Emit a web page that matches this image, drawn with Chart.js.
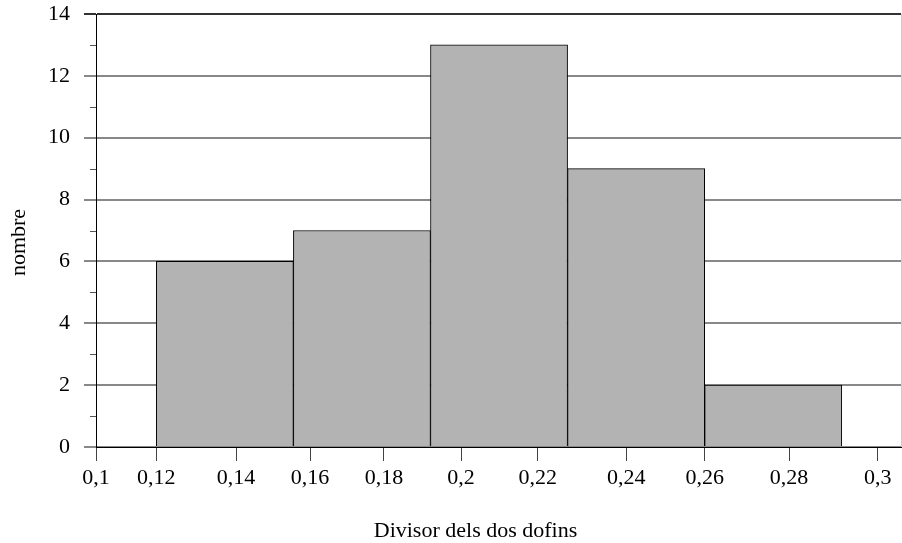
<!DOCTYPE html>
<html>
<head>
<meta charset="utf-8">
<script src="https://cdn.jsdelivr.net/npm/chart.js@4.4.1/dist/chart.umd.min.js"></script>
<style>
  html, body { margin: 0; padding: 0; background: #ffffff; }
  #wrap { position: relative; width: 902px; height: 543px; }
</style>
</head>
<body>
<div id="wrap"><canvas id="c"></canvas></div>
<script>
// ---- data ----
const binEdges = [0.12, 0.155, 0.19, 0.225, 0.26, 0.295];
const counts = [6, 7, 13, 9, 2];
// tick labels of the x axis and where the reference places them (axis units)
const xTickLabels = ['0,1', '0,12', '0,14', '0,16', '0,18', '0,2', '0,22', '0,24', '0,26', '0,28', '0,3'];
const xTickValues = [0.10461, 0.12, 0.14035, 0.15924, 0.17813, 0.19779, 0.21737, 0.23999, 0.26, 0.28153, 0.30417];
const yMajorTicks = [0, 2, 4, 6, 8, 10, 12, 14];
const yMinorTicks = [1, 3, 5, 7, 9, 11, 13];
const xTitle = 'Divisor dels dos dofins';
const yTitle = 'nombre';

const X_MIN = 0.104606, X_MAX = 0.31012;
const FONT = "'Liberation Serif', 'Times New Roman', serif";

const barData = counts.map((c, i) => ({ x: (binEdges[i] + binEdges[i + 1]) / 2, y: c }));

function noPad(scale) {
  scale.paddingTop = 0;
  scale.paddingBottom = 0;
  scale.paddingLeft = 0;
  scale.paddingRight = 0;
}

const extras = {
  id: 'extras',
  afterDraw(chart) {
    const ctx = chart.ctx;
    const ys = chart.scales.y;
    const a = chart.chartArea;
    ctx.save();
    // minor y ticks
    ctx.strokeStyle = '#555';
    ctx.lineWidth = 1;
    yMinorTicks.forEach(v => {
      const py = Math.round(ys.getPixelForValue(v)) + 0.5;
      ctx.beginPath();
      ctx.moveTo(a.left - 6, py);
      ctx.lineTo(a.left, py);
      ctx.stroke();
    });
    // right frame edge
    ctx.strokeStyle = '#cccccc';
    ctx.beginPath();
    ctx.moveTo(a.right + 0.5, a.top);
    ctx.lineTo(a.right + 0.5, a.bottom);
    ctx.stroke();
    // axis titles
    ctx.fillStyle = '#000';
    ctx.font = '22px ' + FONT;
    ctx.textAlign = 'center';
    ctx.textBaseline = 'alphabetic';
    ctx.fillText(xTitle, (a.left + a.right) / 2 - 23, a.bottom + 90);
    ctx.translate(25, (a.top + a.bottom) / 2 + 12);
    ctx.rotate(-Math.PI / 2);
    ctx.fillText(yTitle, 0, 0);
    ctx.restore();
  }
};

new Chart(document.getElementById('c'), {
  type: 'bar',
  data: {
    datasets: [{
      data: barData,
      xAxisID: 'x',
      backgroundColor: '#b3b3b3',
      borderColor: '#000000',
      borderWidth: 1,
      barPercentage: 1.0,
      categoryPercentage: 1.0,
      borderSkipped: 'bottom'
    }]
  },
  options: {
    responsive: true,
    maintainAspectRatio: false,
    animation: false,
    devicePixelRatio: 1,
    layout: { padding: { top: 14, right: 1, left: 0, bottom: 0 } },
    plugins: { legend: { display: false }, tooltip: { enabled: false } },
    scales: {
      x: {
        type: 'linear',
        display: false,
        offset: false,
        min: X_MIN,
        max: X_MAX,
        afterBuildTicks(scale) {
          scale.ticks = binEdges.map(v => ({ value: v }));
        },
        afterFit: noPad,
        grid: { offset: false }
      },
      x2: {
        type: 'linear',
        position: 'bottom',
        offset: false,
        min: X_MIN,
        max: X_MAX,
        afterBuildTicks(scale) {
          scale.ticks = xTickValues.map(v => ({ value: v }));
        },
        afterFit(scale) { noPad(scale); scale.height = 96; },
        ticks: {
          autoSkip: false,
          maxRotation: 0,
          minRotation: 0,
          padding: 4,
          color: '#000',
          font: { family: FONT, size: 22 },
          callback: (v, i) => xTickLabels[i]
        },
        grid: {
          offset: false,
          drawOnChartArea: false,
          tickLength: 14,
          tickColor: '#444',
          tickWidth: 1
        },
        border: { color: '#000', width: 1 }
      },
      y: {
        min: 0,
        max: 14,
        afterBuildTicks(scale) {
          scale.ticks = yMajorTicks.map(v => ({ value: v }));
        },
        afterFit(scale) { noPad(scale); scale.width = 96; },
        ticks: {
          padding: 14,
          color: '#000',
          font: { family: FONT, size: 22 }
        },
        grid: {
          tickLength: 12,
          color: (c) => c.tick && c.tick.value === 14 ? '#333333' : '#888888',
          lineWidth: 2
        },
        border: { color: '#000', width: 1 }
      }
    }
  },
  plugins: [extras]
});
</script>
</body>
</html>
